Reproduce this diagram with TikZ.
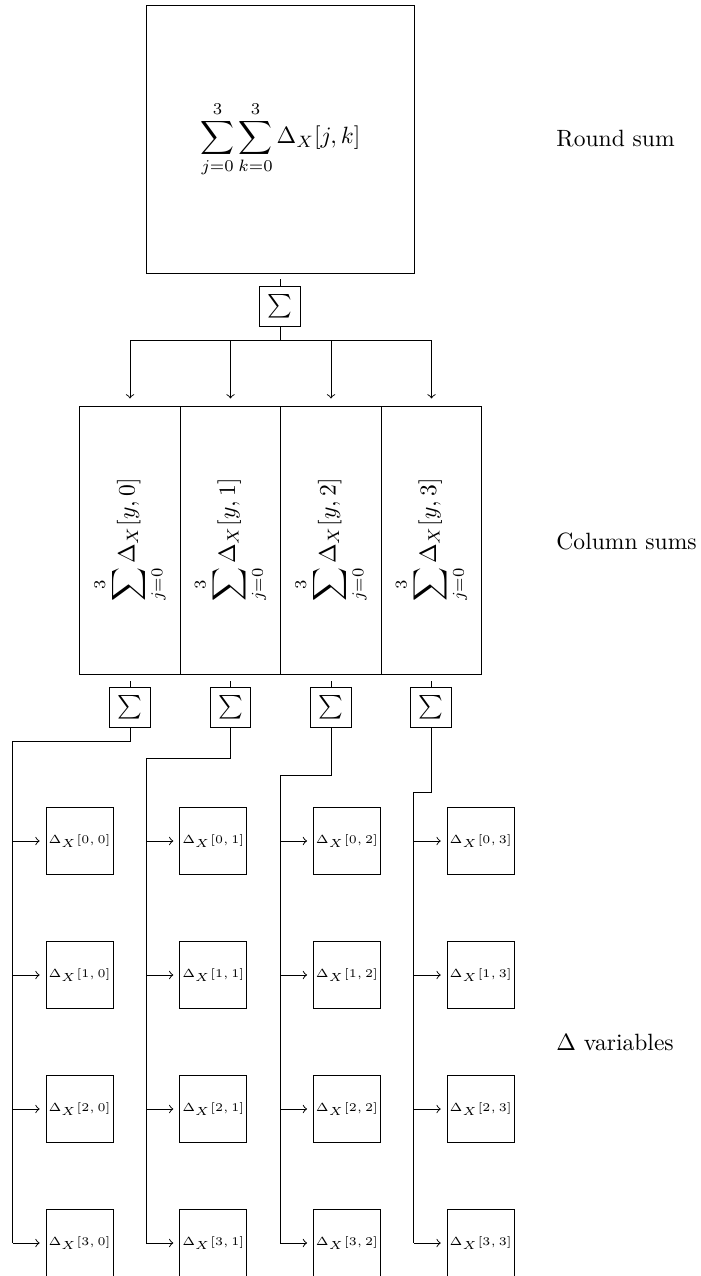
\documentclass[tikz,border=0pt]{standalone}
\usepackage{graphicx}
\usetikzlibrary{arrows}
\begin{document}
\begin{tikzpicture}[x=0.14925mm,y=-0.14925mm,
  bigbox/.style={draw,minimum size=4cm,inner sep=0pt},
  colbox/.style={draw,minimum width=1.5cm,minimum height=4cm,inner sep=0pt},
  sigbox/.style={draw},
  dbox/.style={draw,minimum size=1cm,inner sep=0pt,font=\tiny},
  lab/.style={anchor=west,inner sep=0pt},
  arr/.style={->},
]
\useasboundingbox (0,0) rectangle (700,1276);

% top
\node[bigbox] (top) at (280.5,139) {$\displaystyle\sum_{j=0}^{3}\sum_{k=0}^{3}\Delta_X[j,k]$};
\node[sigbox] (s) at (280,306.5) {$\sum$};
\draw (s.north) -- ++(0,-7);
\coordinate (hub) at (280,340);
\draw (s.south) -- (hub);

% column boxes
\foreach \i/\x in {0/130,1/230.5,2/331,3/431.5}{
  \node[colbox] (c\i) at (\x,540) {\rotatebox{90}{$\displaystyle\sum_{j=0}^{3}\Delta_X[y,\i]$}};
}
\draw (c0.north |- hub) -- (c3.north |- hub);
\foreach \i in {0,...,3}{
  \draw[arr,shorten >=3pt] (c\i.north |- hub) -- (c\i.north);
}

% column sigmas
\foreach \i/\x in {0/130,1/230.5,2/331,3/431}{
  \node[sigbox] (cs\i) at (\x,707.5) {$\sum$};
  \draw (cs\i.north) -- ++(0,-6);
}

% delta boxes
\foreach \j in {0,...,3}{
  \foreach \i in {0,...,3}{
    \node[dbox] (d\i\j) at ({79.5+133.7*\j},{841+134*\i}) {$\Delta_X[\i, \j]$};
  }
}

% routing
\foreach \j in {0,...,3}{
  \coordinate (v\j) at ({12.7+133.7*\j},{741+17*\j});
  \draw (cs\j.south) |- (v\j) -- (v\j |- d3\j.west);
  \foreach \i in {0,...,3}{
    \draw[arr,shorten >=2.5pt] (v\j |- d\i\j.west) -- (d\i\j.west);
  }
}

% labels
\node[lab] (l1) at (556,139) {Round sum};
\node[lab] (l2) at (556,541) {Column sums};
\node[lab] (l3) at (556,1042) {$\Delta$ variables};
\end{tikzpicture}
\end{document}
